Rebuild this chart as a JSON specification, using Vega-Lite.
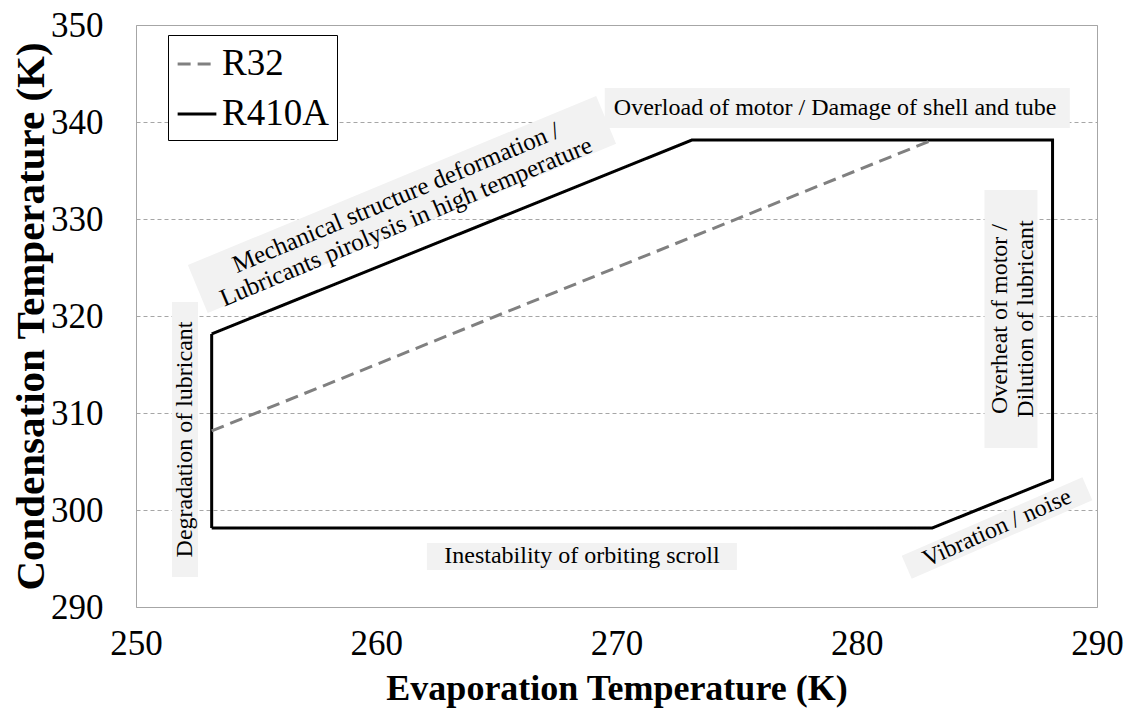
{
  "$schema": "https://vega.github.io/schema/vega-lite/v6.json",
  "width": 961,
  "height": 582,
  "autosize": {"type": "none"},
  "padding": {"left": 136, "top": 25, "right": 38, "bottom": 117},
  "background": "white",
  "config": {
    "view": {"stroke": "#a6a6a6", "strokeWidth": 1},
    "font": "Liberation Serif"
  },
  "datasets": {
    "lines": [
      {"series": "R410A", "ord": 1, "te": 253.15, "tc": 298.15},
      {"series": "R410A", "ord": 2, "te": 253.15, "tc": 318.15},
      {"series": "R410A", "ord": 3, "te": 273.15, "tc": 338.15},
      {"series": "R410A", "ord": 4, "te": 288.15, "tc": 338.15},
      {"series": "R410A", "ord": 5, "te": 288.15, "tc": 303.15},
      {"series": "R410A", "ord": 6, "te": 283.15, "tc": 298.15},
      {"series": "R410A", "ord": 7, "te": 253.15, "tc": 298.15},
      {"series": "R32", "ord": 1, "te": 253.15, "tc": 308.15},
      {"series": "R32", "ord": 2, "te": 283.15, "tc": 338.15}
    ],
    "boxes": [
      {"id": "overload", "te": 279.19, "tc": 341.44},
      {"id": "inestability", "te": 268.56, "tc": 295.21},
      {"id": "degradation", "te": 252.04, "tc": 307.27},
      {"id": "overheat", "te": 286.42, "tc": 319.69},
      {"id": "mechanical", "te": 261.07, "tc": 331.5},
      {"id": "vibration", "te": 285.84, "tc": 298.14}
    ],
    "notes": [
      {"id": "overload", "te": 279.1, "tc": 341.44, "label": "Overload of motor / Damage of shell and tube"},
      {"id": "inestability", "te": 268.56, "tc": 295.21, "label": "Inestability of orbiting scroll"},
      {"id": "degradation", "te": 252.04, "tc": 307.27, "label": "Degradation of lubricant"},
      {"id": "overheat", "te": 285.96, "tc": 319.69, "label": "Overheat of motor /\nDilution of lubricant"},
      {"id": "mechanical", "te": 260.82, "tc": 332.2, "label": "Mechanical structure deformation /\nLubricants pirolysis in high temperature"},
      {"id": "vibration", "te": 285.84, "tc": 298.14, "label": "Vibration / noise"}
    ]
  },
  "encoding": {
    "x": {
      "field": "te", "type": "quantitative",
      "scale": {"domain": [250, 290], "nice": false, "zero": false},
      "axis": {
        "values": [250, 260, 270, 280, 290],
        "grid": false, "ticks": false, "tickSize": 0, "domain": false,
        "labelFont": "Liberation Serif", "labelFontSize": 35, "labelColor": "#000000",
        "labelPadding": 19, "labelFlush": false, "labelOverlap": false, "labelBound": false,
        "title": "Evaporation Temperature (K)",
        "titleFont": "Liberation Serif", "titleFontSize": 36, "titleFontWeight": "bold",
        "titleColor": "#000000", "titleY": 92, "titleBaseline": "alphabetic"
      }
    },
    "y": {
      "field": "tc", "type": "quantitative",
      "scale": {"domain": [290, 350], "nice": false, "zero": false},
      "axis": {
        "values": [290, 300, 310, 320, 330, 340, 350],
        "grid": true, "gridColor": "#a6a6a6", "gridDash": [4, 3], "gridWidth": 1,
        "ticks": false, "tickSize": 0, "domain": false,
        "labelFont": "Liberation Serif", "labelFontSize": 35, "labelColor": "#000000",
        "labelPadding": 33, "labelFlush": false, "labelOverlap": false, "labelBound": false,
        "title": "Condensation Temperature (K)",
        "titleFont": "Liberation Serif", "titleFontSize": 41, "titleFontWeight": "bold",
        "titleColor": "#000000", "titleX": -105, "titleY": 291, "titleAngle": 270,
        "titleAlign": "center", "titleBaseline": "middle"
      }
    }
  },
  "layer": [
    {
      "data": {"name": "boxes"},
      "transform": [{"filter": "datum.id == 'overload'"}],
      "mark": {"type": "point", "shape": "M-1,-0.086L1,-0.086L1,0.086L-1,0.086Z", "size": 216225, "filled": true, "fill": "#f2f2f2", "opacity": 1, "strokeWidth": 0}
    },
    {
      "data": {"name": "boxes"},
      "transform": [{"filter": "datum.id == 'inestability'"}],
      "mark": {"type": "point", "shape": "M-1,-0.0871L1,-0.0871L1,0.0871L-1,0.0871Z", "size": 96100, "filled": true, "fill": "#f2f2f2", "opacity": 1, "strokeWidth": 0}
    },
    {
      "data": {"name": "boxes"},
      "transform": [{"filter": "datum.id == 'degradation'"}],
      "mark": {"type": "point", "shape": "M-1,-0.0945L1,-0.0945L1,0.0945L-1,0.0945Z", "size": 75625, "angle": 90, "filled": true, "fill": "#f2f2f2", "opacity": 1, "strokeWidth": 0}
    },
    {
      "data": {"name": "boxes"},
      "transform": [{"filter": "datum.id == 'overheat'"}],
      "mark": {"type": "point", "shape": "M-1,-0.2054L1,-0.2054L1,0.2054L-1,0.2054Z", "size": 66564, "angle": 90, "filled": true, "fill": "#f2f2f2", "opacity": 1, "strokeWidth": 0}
    },
    {
      "data": {"name": "boxes"},
      "transform": [{"filter": "datum.id == 'mechanical'"}],
      "mark": {"type": "point", "shape": "M-1,-0.1175L1,-0.1175L1,0.1175L-1,0.1175Z", "size": 195364, "angle": 337.5, "filled": true, "fill": "#f2f2f2", "opacity": 1, "strokeWidth": 0}
    },
    {
      "data": {"name": "boxes"},
      "transform": [{"filter": "datum.id == 'vibration'"}],
      "mark": {"type": "point", "shape": "M-1,-0.1269L1,-0.1269L1,0.1269L-1,0.1269Z", "size": 38809, "angle": 336.5, "filled": true, "fill": "#f2f2f2", "opacity": 1, "strokeWidth": 0}
    },
    {
      "data": {"name": "notes"},
      "transform": [{"filter": "datum.id == 'overload' || datum.id == 'inestability'"}],
      "mark": {"type": "text", "font": "Liberation Serif", "fontSize": 24, "color": "#000000", "align": "center", "baseline": "middle"},
      "encoding": {"text": {"field": "label"}}
    },
    {
      "data": {"name": "notes"},
      "transform": [{"filter": "datum.id == 'degradation' || datum.id == 'overheat'"}],
      "mark": {"type": "text", "font": "Liberation Serif", "fontSize": 24, "color": "#000000", "align": "center", "baseline": "middle", "angle": 270, "lineBreak": "\n", "lineHeight": 26},
      "encoding": {"text": {"field": "label"}}
    },
    {
      "data": {"name": "notes"},
      "transform": [{"filter": "datum.id == 'mechanical'"}],
      "mark": {"type": "text", "font": "Liberation Serif", "fontSize": 25, "color": "#000000", "align": "center", "baseline": "middle", "angle": 337.2, "lineBreak": "\n", "lineHeight": 26},
      "encoding": {"text": {"field": "label"}}
    },
    {
      "data": {"name": "notes"},
      "transform": [{"filter": "datum.id == 'vibration'"}],
      "mark": {"type": "text", "font": "Liberation Serif", "fontSize": 24, "color": "#000000", "align": "center", "baseline": "middle", "angle": 336},
      "encoding": {"text": {"field": "label"}}
    },
    {
      "data": {"name": "lines"},
      "mark": {"type": "line", "strokeWidth": 3, "strokeJoin": "miter", "strokeCap": "butt"},
      "encoding": {
        "order": {"field": "ord", "type": "quantitative"},
        "color": {
          "field": "series", "type": "nominal",
          "scale": {"domain": ["R32", "R410A"], "range": ["#808080", "#000000"]},
          "legend": {
            "title": null, "orient": "none", "legendX": 32, "legendY": 10,
            "symbolType": "stroke", "symbolSize": 1500, "symbolStrokeWidth": 3,
            "labelFont": "Liberation Serif", "labelFontSize": 37, "labelColor": "#000000",
            "labelOffset": 4, "rowPadding": 11, "padding": 8,
            "strokeColor": "#000000", "fillColor": "#ffffff", "cornerRadius": 0
          }
        },
        "strokeDash": {
          "field": "series", "type": "nominal",
          "scale": {"domain": ["R32", "R410A"], "range": [[13, 7], [1, 0]]},
          "legend": null
        }
      }
    }
  ]
}
